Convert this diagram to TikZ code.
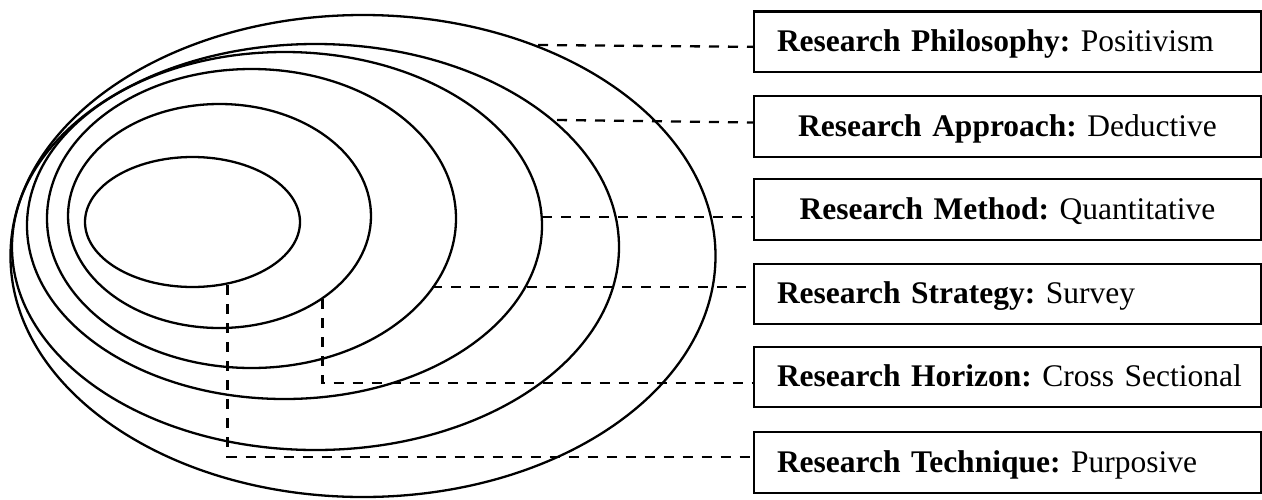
\documentclass[tikz,border=0pt]{standalone}
\usepackage{fontspec}
\setmainfont{Liberation Serif}
\frenchspacing
\tikzset{
  ring/.style={draw=black, line width=2.3pt},
  labelbox/.style={draw=black, line width=2.3pt, minimum width=507pt, minimum height=60.5pt,
    inner xsep=0pt, inner ysep=0pt, text width=507pt, text height=22pt, text depth=2.6pt,
    font=\fontsize{31.5}{37}\selectfont\frenchspacing},
  leftbox/.style={labelbox, align=left},
  midbox/.style={labelbox, align=center},
  conn/.style={draw=black, line width=2.3pt, dash pattern=on 10pt off 9pt}
}
\begin{document}
\begin{tikzpicture}[x=1pt,y=-1pt]
\useasboundingbox (0,0) rectangle (1262,499);
% nested layers
\draw[ring] (192.5,222) ellipse [x radius=107.5, y radius=65];
\draw[ring] (219.5,216) ellipse [x radius=151.5, y radius=112];
\draw[ring] (251.5,218.5) ellipse [x radius=204.5, y radius=149.5];
\draw[ring] (284.5,225.5) ellipse [x radius=257.5, y radius=173.5];
\draw[ring] (315.5,247) ellipse [x radius=303.5, y radius=203];
\draw[ring] (363,256) ellipse [x radius=352.5, y radius=241];
% label boxes
\node[leftbox] (b1) at (1007.5,41.85) {\hspace*{23pt}\textbf{Research Philosophy:} Positivism};
\node[midbox]  (b2) at (1007.5,126.5) {\textbf{Research Approach:} Deductive};
\node[midbox]  (b3) at (1007.5,209.5) {\textbf{Research Method:} Quantitative};
\node[leftbox] (b4) at (1007.5,294) {\hspace*{23pt}\textbf{Research Strategy:} Survey};
\node[leftbox] (b5) at (1007.5,377) {\hspace*{23pt}\textbf{Research Horizon:} Cross Sectional};
\node[leftbox] (b6) at (1007.5,462.5) {\hspace*{23pt}\textbf{Research Technique:} Purposive};
% connector start points
\coordinate (p1) at (538,45);
\coordinate (p2) at (557,120);
\coordinate (p3) at (542,216.7);
\coordinate (p4) at (432,287);
\coordinate (p5) at (322.6,299);
\coordinate (p6) at (227.5,285);
\draw[conn] (p1) -- ([yshift=-5pt]b1.west);
\draw[conn] (p2) -- ([yshift=4pt]b2.west);
\draw[conn] (p3) -- ([yshift=-7.2pt]b3.west);
\draw[conn] (p4) -- ([yshift=7pt]b4.west);
\draw[conn] (p5) |- ([yshift=-6pt]b5.west);
\draw[conn] (p6) |- ([yshift=5.5pt]b6.west);
\end{tikzpicture}
\end{document}
